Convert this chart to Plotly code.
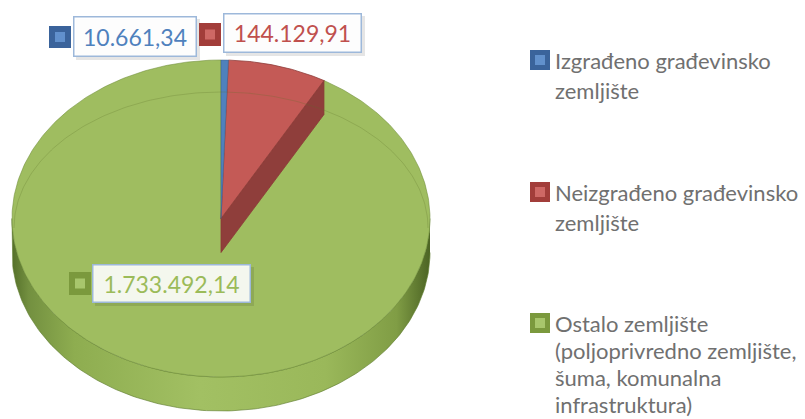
import numpy as np
import plotly.graph_objects as go

# ---- data ----
categories = [
    "Izgrađeno građevinsko zemljište",
    "Neizgrađeno građevinsko zemljište",
    "Ostalo zemljište (poljoprivredno zemljište, šuma, komunalna infrastruktura)",
]
values = [10661.34, 144129.91, 1733492.14]
legend_lines = [
    ["Izgrađeno građevinsko", "zemljište"],
    ["Neizgrađeno građevinsko", "zemljište"],
    ["Ostalo zemljište", "(poljoprivredno zemljište,", "šuma, komunalna", "infrastruktura)"],
]
top_colors = ["#4F81BD", "#C45A56", "#9FBD60"]
side_colors = ["#3A5F8F", "#8F3E3B", "#7E9A43"]
swatch_outer = ["#3A639B", "#A23D3A", "#7B993D"]
swatch_inner = ["#6190CC", "#CE6865", "#A8C66C"]
text_colors = ["#4F81BD", "#C0504D", "#9BBB59"]


def fmt(v):
    s = f"{v:,.2f}"
    return s.replace(",", "X").replace(".", ",").replace("X", ".")


# ---- geometry of the 3D-looking pie (pixel space) ----
W, H = 805, 419
CX, CY, RX, RY, DEPTH = 221.0, 218.5, 209.0, 158.5, 34.0


def pt(theta_deg, dy=0.0):
    t = np.radians(theta_deg)
    return CX + RX * np.sin(t), CY - RY * np.cos(t) + dy


total = float(sum(values))
fr = np.array(values) / total
ends = np.cumsum(fr) * 360.0
starts = np.concatenate([[0.0], ends[:-1]])

fig = go.Figure()

# front wall
th = np.linspace(90, 270, 181)
xt, yt = pt(th)
xb, yb = pt(th[::-1], DEPTH)
fig.add_trace(go.Scatter(
    x=np.concatenate([xt, xb]), y=np.concatenate([yt, yb]),
    mode="lines", fill="toself", line=dict(color="rgba(95,125,45,0.8)", width=0.8),
    fillgradient=dict(type="horizontal", colorscale=[
        [0.0, "#55702A"], [0.04, "#739040"], [0.15, "#8EAD50"], [0.45, "#A2C063"],
        [0.75, "#9AB85A"], [0.92, "#809D45"], [1.0, "#4C6424"]]),
    hoverinfo="skip", showlegend=False))

# green top face (largest slice)
i = 2
th = np.linspace(starts[i], ends[i], 400)
x, y = pt(th)
fig.add_trace(go.Scatter(
    x=np.concatenate([[CX], x, [CX]]), y=np.concatenate([[CY], y, [CY]]),
    mode="lines", fill="toself", fillcolor=top_colors[i],
    line=dict(color="rgba(110,140,55,0.7)", width=0.8),
    hoverinfo="skip", showlegend=False))

# red radial cut face
i = 1
ex, ey = pt(ends[i])
fig.add_trace(go.Scatter(
    x=[CX, ex, ex, CX, CX], y=[CY, ey, ey + DEPTH, CY + DEPTH, CY],
    mode="lines", fill="toself", fillcolor=side_colors[i],
    line=dict(color="#8A3936", width=0.8), hoverinfo="skip", showlegend=False))

# red and blue top faces
for i in [1, 0]:
    th = np.linspace(starts[i], ends[i], 80)
    x, y = pt(th)
    fig.add_trace(go.Scatter(
        x=np.concatenate([[CX], x, [CX]]), y=np.concatenate([[CY], y, [CY]]),
        mode="lines", fill="toself", fillcolor=top_colors[i],
        line=dict(color=side_colors[i], width=0.8 if i == 1 else 0.5),
        hoverinfo="skip", showlegend=False))

# faint bevel line at the back of the top face
th = np.linspace(-90, 90, 181)
bx = CX + 207 * np.sin(np.radians(th))
by = 228 - 136 * np.cos(np.radians(th))
fig.add_trace(go.Scatter(x=bx, y=by, mode="lines",
                         line=dict(color="rgba(90,110,40,0.25)", width=1),
                         hoverinfo="skip", showlegend=False))

shapes = []
annotations = []

# ---- data labels ----
label_boxes = [(73, 197, 16, 57), (223, 362, 13, 53), (92, 251, 264, 303)]
label_squares = [(49, 71, 26, 48), (199, 221, 23, 46), (69, 91, 272, 295)]
for i in range(3):
    x0, x1, y0, y1 = label_boxes[i]
    shapes.append(dict(type="rect", xref="x", yref="y", x0=x0 + 3, x1=x1 + 3, y0=y0 + 3, y1=y1 + 3,
                       fillcolor="rgba(0,0,0,0.10)", line=dict(width=0), layer="above"))
    sx0, sx1, sy0, sy1 = label_squares[i]
    shapes.append(dict(type="rect", xref="x", yref="y", x0=sx0, x1=sx1, y0=sy0, y1=sy1,
                       fillcolor=swatch_outer[i], line=dict(width=0), layer="above"))
    mx, my = (sx0 + sx1) / 2, (sy0 + sy1) / 2
    shapes.append(dict(type="rect", xref="x", yref="y", x0=mx - 5, x1=mx + 5, y0=my - 5, y1=my + 5,
                       fillcolor=swatch_inner[i], line=dict(width=0), layer="above"))
    annotations.append(dict(
        x=(x0 + x1) / 2, y=(y0 + y1) / 2, xref="x", yref="y", text=fmt(values[i]),
        showarrow=False, xanchor="center", yanchor="middle",
        width=x1 - x0 - 3, height=y1 - y0 - 3, borderpad=0,
        bgcolor="rgba(255,255,255,0.9)", bordercolor="#9DB8DA", borderwidth=1.5,
        font=dict(family="Lato", size=23, color=text_colors[i])))

# ---- legend ----
legend_y = [[60, 90], [192, 222], [323, 350, 377, 404]]
for i in range(3):
    cy0 = legend_y[i][0]
    shapes.append(dict(type="rect", xref="x", yref="y", x0=530, x1=550, y0=cy0 - 10, y1=cy0 + 10,
                       fillcolor=swatch_outer[i], line=dict(width=0), layer="above"))
    shapes.append(dict(type="rect", xref="x", yref="y", x0=535, x1=545, y0=cy0 - 5, y1=cy0 + 5,
                       fillcolor=swatch_inner[i], line=dict(width=0), layer="above"))
    for line, ly in zip(legend_lines[i], legend_y[i]):
        annotations.append(dict(
            x=553, y=ly, xref="x", yref="y", text=line, showarrow=False,
            xanchor="left", yanchor="middle",
            font=dict(family="Lato", size=22, color="#707070")))

fig.update_layout(
    width=W, height=H, margin=dict(l=0, r=0, t=0, b=0),
    paper_bgcolor="white", plot_bgcolor="white",
    xaxis=dict(range=[0, W], visible=False, fixedrange=True),
    yaxis=dict(range=[H, 0], visible=False, fixedrange=True),
    shapes=shapes, annotations=annotations, showlegend=False,
)

fig.write_html("out.html")
